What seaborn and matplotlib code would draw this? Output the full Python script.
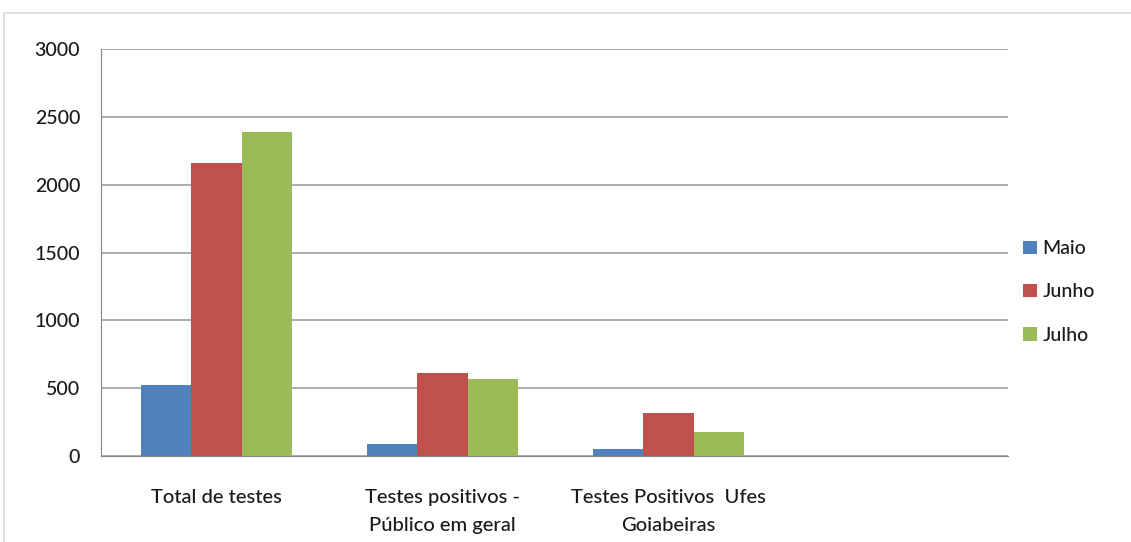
import pandas as pd
import numpy as np
import matplotlib.pyplot as plt
import seaborn as sns
from matplotlib.patches import Rectangle

# dados
categorias = ['Total de testes', 'Testes positivos -\nPúblico em geral', 'Testes Positivos  Ufes\nGoiabeiras']
meses = ['Maio', 'Junho', 'Julho']
maio = [520, 90, 55]
junho = [2160, 610, 315]
julho = [2390, 565, 175]
cores = ['#4F81BD', '#C0504D', '#9BBB59']

df = pd.DataFrame({
    'categoria': categorias * 3,
    'mes': [m for m in meses for _ in categorias],
    'valor': maio + junho + julho,
})

sns.set_style('white')
plt.rcParams['font.family'] = ['Lato', 'DejaVu Sans']
plt.rcParams['font.weight'] = 'medium'
plt.rcParams['text.color'] = '#1a1a1a'

fig = plt.figure(figsize=(11.31, 5.42), dpi=100)
ax = fig.add_axes([101 / 1131, 1 - 456 / 542, (1008 - 101) / 1131, (456 - 49) / 542])

# moldura clara em volta do gráfico
fig.patches.append(Rectangle((4 / 1131, -0.05), 1.2, 1 - 13 / 542 + 0.05,
                             transform=fig.transFigure, fill=False,
                             edgecolor='#d9d9d9', linewidth=1.2, zorder=0))

sns.barplot(data=df, x='categoria', y='valor', hue='mes', order=categorias,
            hue_order=meses, palette=cores, width=0.67, saturation=1,
            linewidth=0, ax=ax, zorder=3)

ax.set_xlim(-0.51, 3.49)
ax.set_ylim(0, 3000)
ax.set_yticks(np.arange(0, 3001, 500))
ax.yaxis.grid(True, color='#a6a6a6', linewidth=1.3, zorder=0)
ax.set_axisbelow(True)

ax.set_xticks(range(3))
ax.set_xticklabels(categorias, fontsize=14.5, linespacing=1.75)
ax.set_xticks(np.arange(-0.5, 3.6, 1), minor=True)
ax.tick_params(axis='x', which='major', length=0, pad=24, labelcolor='#1a1a1a')
ax.tick_params(axis='x', which='minor', length=6, color='#868686', direction='out')
ax.tick_params(axis='y', length=6, color='#868686', direction='out', labelsize=14,
               pad=9, labelcolor='#1a1a1a')

for s in ['top', 'right']:
    ax.spines[s].set_visible(False)
ax.spines['left'].set_color('#868686')
ax.spines['bottom'].set_color('#868686')
ax.set_xlabel('')
ax.set_ylabel('')

ax.legend(loc='center left', bbox_to_anchor=(1.008, 0.403), frameon=False,
          borderaxespad=0, fontsize=14, handlelength=0.7, handleheight=0.7,
          handletextpad=0.3, labelspacing=1.35)

fig.savefig('out.png', dpi=100)
